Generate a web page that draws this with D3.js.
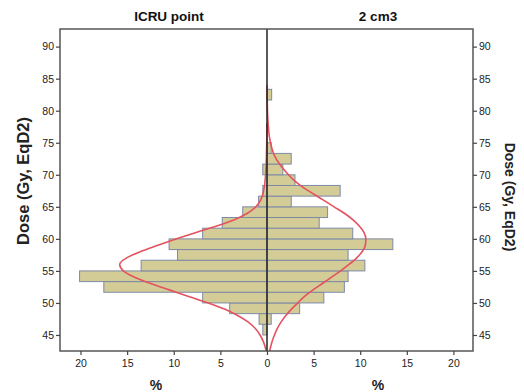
<!DOCTYPE html>
<html>
<head>
<meta charset="utf-8">
<script src="https://cdn.jsdelivr.net/npm/d3@7/dist/d3.min.js"></script>
<style>
  body { margin: 0; background: #fff; }
  svg { display: block; font-family: "Liberation Sans", Arial, sans-serif; }
</style>
</head>
<body>
<svg id="chart" width="524" height="392"></svg>
<script>
// histogram bins (lower edge of each dose bin, Gy EqD2)
var binStart = [45, 46.67, 48.33, 50, 51.67, 53.33, 55, 56.67, 58.33, 60, 61.67,
                63.33, 65, 66.67, 68.33, 70, 71.67, 73.33, 75, 76.67, 78.33, 80, 81.67];
var binWidth = 5 / 3;

// percent of patients per bin
var icruPct = [0.45, 0.85, 4.0, 6.9, 17.5, 20.1, 13.5, 9.6, 10.5, 6.9, 4.8,
               2.6, 0.9, 0.45, 0, 0.45, 0, 0, 0, 0, 0, 0, 0];
var cm3Pct  = [0, 0.45, 3.5, 6.1, 8.3, 8.7, 10.5, 8.7, 13.5, 9.2, 5.6,
               6.5, 2.6, 7.85, 3.0, 1.7, 2.6, 0.45, 0, 0, 0, 0, 0.5];

// normal curves
var icruCurveDose = [42.5, 44, 45, 46, 47, 48, 49, 50, 51, 52, 53, 54, 55, 56, 57, 58, 59,
                     60, 61, 62, 63, 64, 65, 66, 67, 68, 70, 72, 75, 78];
var icruCurvePct  = [0.08, 0.4, 0.75, 1.25, 2.0, 3.1, 4.5, 6.3, 8.4, 10.4, 12.4, 14.2, 15.4, 15.8, 15.1, 13.6, 11.7,
                     9.7, 7.6, 5.4, 3.5, 2.1, 1.2, 0.7, 0.45, 0.3, 0.15, 0.08, 0.03, 0];
var cm3CurveDose = [42.5, 44, 45, 46, 47, 48, 49, 50, 51, 52, 53, 54, 55, 56, 57, 58, 59, 60, 61, 62,
                    63, 64, 65, 66, 67, 68, 69, 70, 71, 72, 73, 74, 75, 76, 78, 80, 82, 84];
var cm3CurvePct  = [0.28, 0.55, 0.8, 1.1, 1.5, 2.0, 2.6, 3.3, 4.0, 4.9, 5.9, 6.9, 7.9, 8.8, 9.6, 10.2, 10.55, 10.6, 10.4, 9.9,
                    9.2, 8.3, 7.2, 6.1, 5.0, 3.9, 3.0, 2.3, 1.7, 1.2, 0.8, 0.55, 0.38, 0.25, 0.12, 0.05, 0.02, 0];

var doseTicks = [45, 50, 55, 60, 65, 70, 75, 80, 85, 90];
var pctTicks = [0, 5, 10, 15, 20];

var panelTitles = ["ICRU point", "2 cm3"];
var yTitle = "Dose (Gy, EqD2)";
var xTitle = "%";

var svg = d3.select("#chart");
var plotLeft = 60, plotRight = 473, plotTop = 29, plotBottom = 351, mid = 267;

var xL = d3.scaleLinear().domain([0, 22.2]).range([mid, plotLeft]);
var xR = d3.scaleLinear().domain([0, 22.1]).range([mid, plotRight]);
var y = d3.scaleLinear().domain([42.5, 92.75]).range([plotBottom, plotTop]);

var barFill = "#d3cc97", barStroke = "#7d8aa6", curveColor = "#e4525e";

// bars
function drawBars(vals, xs, cls) {
  svg.append("g").selectAll("rect." + cls)
    .data(binStart.map(function(d, i) { return { lo: d, v: vals[i] }; })
      .filter(function(d) { return d.v > 0; }))
    .enter().append("rect")
    .attr("class", cls)
    .attr("x", function(d) { return Math.min(xs(0), xs(d.v)); })
    .attr("width", function(d) { return Math.abs(xs(d.v) - xs(0)); })
    .attr("y", function(d) { return y(d.lo + binWidth); })
    .attr("height", function(d) { return y(d.lo) - y(d.lo + binWidth); })
    .attr("fill", barFill)
    .attr("stroke", barStroke)
    .attr("stroke-width", 1);
}
drawBars(icruPct, xL, "icru");
drawBars(cm3Pct, xR, "cm3");

// normal curves
function drawCurve(doses, pcts, xs) {
  var line = d3.line()
    .x(function(d) { return xs(d[1]); })
    .y(function(d) { return y(d[0]); })
    .curve(d3.curveMonotoneY);
  svg.append("path")
    .datum(doses.map(function(d, i) { return [d, pcts[i]]; }))
    .attr("d", line)
    .attr("fill", "none")
    .attr("stroke", curveColor)
    .attr("stroke-width", 1.6);
}
drawCurve(icruCurveDose, icruCurvePct, xL);
drawCurve(cm3CurveDose, cm3CurvePct, xR);

// centre line
svg.append("line")
  .attr("x1", mid).attr("x2", mid).attr("y1", plotTop).attr("y2", plotBottom)
  .attr("stroke", "#222").attr("stroke-width", 1.5);

// frame
svg.append("rect")
  .attr("x", plotLeft).attr("y", plotTop)
  .attr("width", plotRight - plotLeft).attr("height", plotBottom - plotTop)
  .attr("fill", "none").attr("stroke", "#555").attr("stroke-width", 1.5);

// axes
function styleAxis(g) {
  g.select(".domain").remove();
  g.selectAll(".tick line").attr("stroke", "#444").attr("stroke-width", 1.2);
  g.selectAll(".tick text").attr("fill", "#222").attr("font-size", "10.5px")
    .attr("font-family", "'Liberation Sans', Arial, sans-serif");
}
svg.append("g").attr("transform", "translate(" + plotLeft + ",0)")
  .call(d3.axisLeft(y).tickValues(doseTicks).tickSize(4).tickPadding(2))
  .call(styleAxis);
svg.append("g").attr("transform", "translate(" + plotRight + ",0)")
  .call(d3.axisRight(y).tickValues(doseTicks).tickSize(4).tickPadding(2))
  .call(styleAxis);
svg.append("g").attr("transform", "translate(0," + plotBottom + ")")
  .call(d3.axisBottom(xL).tickValues(pctTicks).tickSize(4).tickPadding(5))
  .call(styleAxis);
svg.append("g").attr("transform", "translate(0," + plotBottom + ")")
  .call(d3.axisBottom(xR).tickValues(pctTicks.slice(1)).tickSize(4).tickPadding(5))
  .call(styleAxis);

// titles
svg.append("text").attr("x", 169).attr("y", 21).attr("text-anchor", "middle")
  .attr("font-size", "13.5px").attr("font-weight", "bold").attr("fill", "#111")
  .text(panelTitles[0]);
svg.append("text").attr("x", 378).attr("y", 21).attr("text-anchor", "middle")
  .attr("font-size", "13.5px").attr("font-weight", "bold").attr("fill", "#111")
  .text(panelTitles[1]);

svg.append("text").attr("x", 156).attr("y", 390).attr("text-anchor", "middle")
  .attr("font-size", "14px").attr("font-weight", "bold").attr("fill", "#222")
  .text(xTitle);
svg.append("text").attr("x", 378).attr("y", 390).attr("text-anchor", "middle")
  .attr("font-size", "14px").attr("font-weight", "bold").attr("fill", "#222")
  .text(xTitle);

svg.append("text")
  .attr("transform", "translate(28.5,181) rotate(-90)")
  .attr("text-anchor", "middle")
  .attr("font-size", "16.5px").attr("font-weight", "bold").attr("fill", "#222")
  .text(yTitle);
svg.append("text")
  .attr("transform", "translate(505,197) rotate(90)")
  .attr("text-anchor", "middle")
  .attr("font-size", "14px").attr("font-weight", "bold").attr("fill", "#222")
  .text(yTitle);
</script>
</body>
</html>
